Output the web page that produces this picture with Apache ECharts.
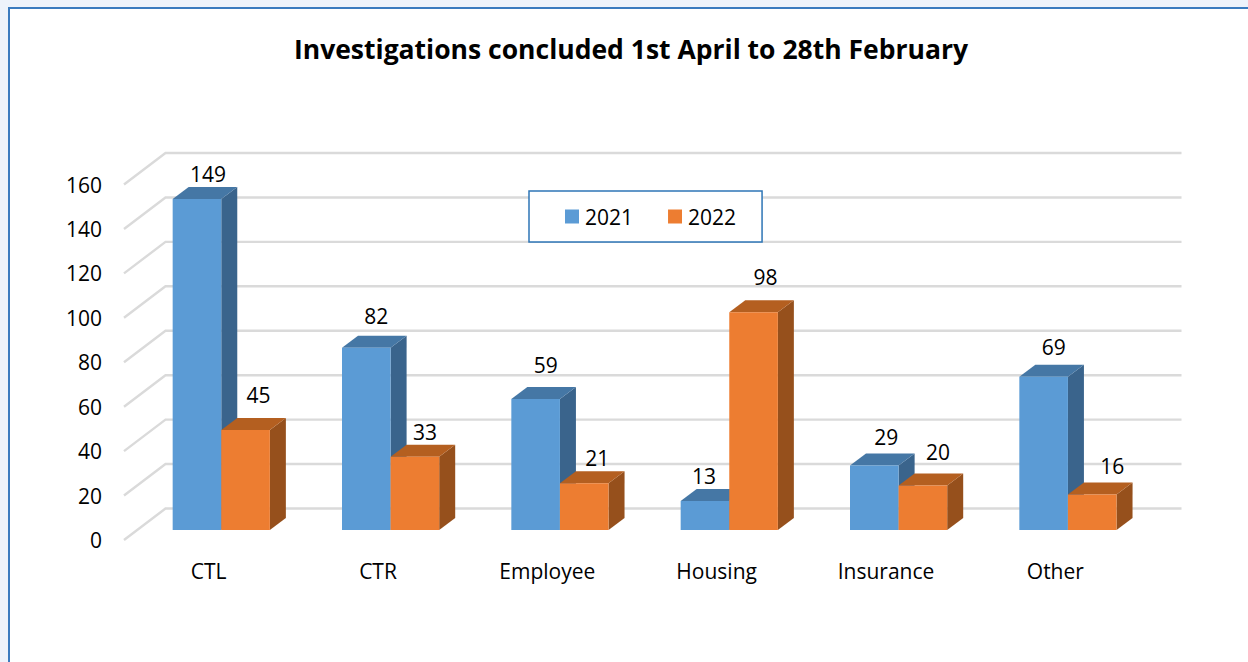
<!DOCTYPE html>
<html>
<head>
<meta charset="utf-8">
<script src="https://cdn.jsdelivr.net/npm/echarts@6/dist/echarts.min.js"></script>
<style>
html,body{margin:0;padding:0;background:#fff;overflow:hidden}
#chart{width:1248px;height:662px}
</style>
</head>
<body>
<div id="chart"></div>
<script>
const titleText = 'Investigations concluded 1st April to 28th February';
const categories = ['CTL', 'CTR', 'Employee', 'Housing', 'Insurance', 'Other'];
const values2021 = [149, 82, 59, 13, 29, 69];
const values2022 = [45, 33, 21, 98, 20, 16];
const yTicks = [0, 20, 40, 60, 80, 100, 120, 140, 160];

// label offsets from the top of each bar (layout only, not data)
const nudge2021 = [[11, -13], [10, -20], [10, -22], [-1, -13], [12, -17], [10, -18]];
const nudge2022 = [[13, -23], [10, -13], [13, -13], [12, -23], [15, -22], [20, -16]];

const FONT = '"Open Sans"';
const WALL_DX = 41.5, WALL_DY = -31.5;   // front plane to back wall
const BAR_DX = 12.6, BAR_DY = -10;       // front plane to bar front
const DEPTH_DX = 16, DEPTH_DY = -12;     // bar depth
const BAR_FRACTION = 0.287;

function gridItem(params, api) {
  const p = api.coord([0, api.value(0)]);
  const band = api.size([1, 0])[0];
  const x0 = p[0] - band / 2;
  const x1 = x0 + band * categories.length;
  return {
    type: 'polyline',
    shape: { points: [[x0, p[1]], [x0 + WALL_DX, p[1] + WALL_DY], [x1 + WALL_DX, p[1] + WALL_DY]] },
    style: { stroke: '#DADADA', lineWidth: 2.4, fill: null }
  };
}

function barRenderer(seriesIndex, colors, nudges) {
  return function (params, api) {
    const i = api.value(0), v = api.value(1);
    const top = api.coord([i, v]);
    const base = api.coord([i, 0]);
    const w = api.size([1, 0])[0] * BAR_FRACTION;
    const xl = top[0] + BAR_DX + (seriesIndex === 0 ? -w : 0);
    const xr = xl + w;
    const yt = top[1] + BAR_DY;
    const yb = base[1] + BAR_DY;
    const n = nudges[i];
    return {
      type: 'group',
      children: [
        { type: 'polygon', shape: { points: [[xr, yt], [xr + DEPTH_DX, yt + DEPTH_DY], [xr + DEPTH_DX, yb + DEPTH_DY], [xr, yb]] },
          style: { fill: colors.side } },
        { type: 'polygon', shape: { points: [[xl, yt], [xl + DEPTH_DX, yt + DEPTH_DY], [xr + DEPTH_DX, yt + DEPTH_DY], [xr, yt]] },
          style: { fill: colors.top } },
        { type: 'rect', shape: { x: xl, y: yt, width: w, height: yb - yt },
          style: { fill: colors.front } },
        { type: 'text', z2: 10,
          style: { x: (xl + xr) / 2 + n[0], y: yt + DEPTH_DY + n[1], text: String(v),
            align: 'center', verticalAlign: 'middle', fill: '#000', font: '21px ' + FONT } }
      ]
    };
  };
}

const blue = { front: '#5B9BD5', top: '#4577A5', side: '#3A648C' };
const orange = { front: '#ED7D31', top: '#B45F20', side: '#96501C' };

const chart = echarts.init(document.getElementById('chart'), null, { renderer: 'svg' });
chart.setOption({
  animation: false,
  backgroundColor: '#fff',
  title: {
    text: titleText, left: 626, top: 30, textAlign: 'center',
    textStyle: { fontFamily: FONT, fontWeight: 'bold', fontSize: 26.5, color: '#000' }
  },
  graphic: [
    { type: 'rect', z: -1, shape: { x: 0, y: 0, width: 1248, height: 7 }, style: { fill: '#EEF3FB' } },
    { type: 'rect', z: -1, shape: { x: 0, y: 0, width: 8, height: 662 }, style: { fill: '#EEF3FB' } },
    { type: 'rect', z: -1, shape: { x: 8, y: 7, width: 1240, height: 2 }, style: { fill: '#3B7BBF' } },
    { type: 'rect', z: -1, shape: { x: 8, y: 7, width: 2, height: 655 }, style: { fill: '#3B7BBF' } }
  ],
  legend: {
    data: ['2021', '2022'], left: 529, top: 191, z: 20,
    padding: [15, 26, 15, 36], itemGap: 35, itemWidth: 14, itemHeight: 14, icon: 'rect',
    backgroundColor: '#fff', borderColor: '#2E75B6', borderWidth: 1.5, selectedMode: false,
    textStyle: { fontFamily: FONT, fontSize: 21, color: '#000', padding: [0, 0, 0, 1] }
  },
  grid: { left: 124, top: 184.5, width: 1016, height: 355.5 },
  xAxis: {
    type: 'category', data: categories,
    axisLine: { show: false }, axisTick: { show: false }, splitLine: { show: false },
    axisLabel: { margin: 20, fontFamily: FONT, fontSize: 21, color: '#000' }
  },
  yAxis: {
    type: 'value', min: 0, max: 160, interval: 20,
    axisLine: { show: false }, axisTick: { show: false }, splitLine: { show: false },
    axisLabel: { margin: 22, fontFamily: FONT, fontSize: 21, color: '#000' }
  },
  series: [
    { name: 'walls', type: 'custom', silent: true, z: 1, renderItem: gridItem,
      encode: { y: 0 }, data: yTicks.map(t => [t]) },
    { name: '2021', type: 'custom', z: 2, itemStyle: { color: blue.front },
      renderItem: barRenderer(0, blue, nudge2021), encode: { x: 0, y: 1 },
      data: values2021.map((v, i) => [i, v]) },
    { name: '2022', type: 'custom', z: 3, itemStyle: { color: orange.front },
      renderItem: barRenderer(1, orange, nudge2022), encode: { x: 0, y: 1 },
      data: values2022.map((v, i) => [i, v]) }
  ]
});
</script>
</body>
</html>
